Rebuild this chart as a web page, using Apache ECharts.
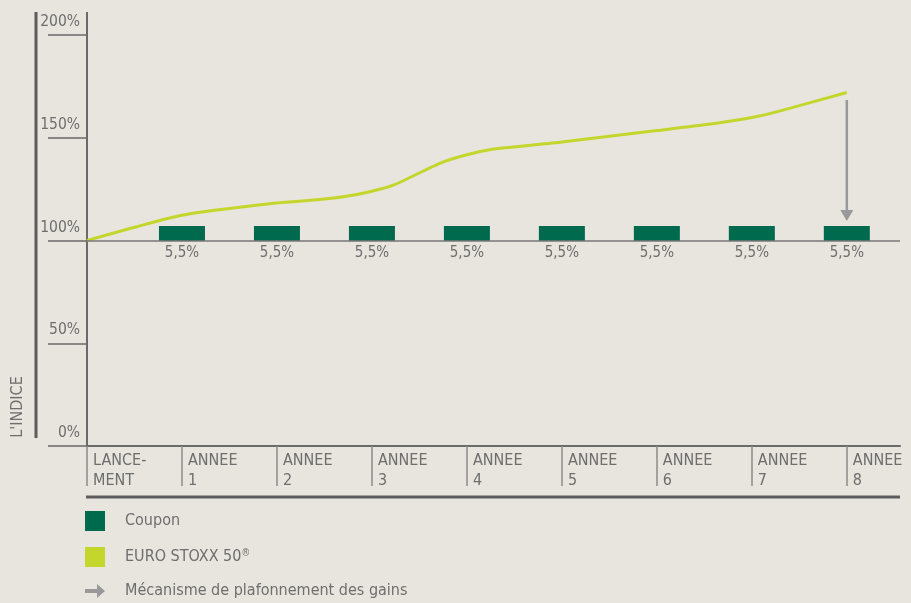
<!DOCTYPE html>
<html>
<head>
<meta charset="utf-8">
<script src="https://cdn.jsdelivr.net/npm/echarts@6/dist/echarts.min.js"></script>
<style>
  html, body { margin: 0; padding: 0; background: #e8e4de; }
  #box { width: 911px; height: 603px; }
</style>
</head>
<body>
<div id="box"></div>
<script>
var categories = ['LANCE-\nMENT', 'ANNEE\n1', 'ANNEE\n2', 'ANNEE\n3', 'ANNEE\n4', 'ANNEE\n5', 'ANNEE\n6', 'ANNEE\n7', 'ANNEE\n8'];
var couponYears = [1, 2, 3, 4, 5, 6, 7, 8];
var couponValues = [5.5, 5.5, 5.5, 5.5, 5.5, 5.5, 5.5, 5.5];
// index path: [year, level %]
var indexX = [0, 1, 2, 2.45, 2.73, 3, 3.24, 3.72, 4, 4.24, 5, 6, 6.5, 7, 7.3, 8];
var indexY = [100, 112.3, 118.3, 119.9, 121.5, 124.0, 127.2, 137.7, 141.7, 144.2, 147.9, 153.5, 156.3, 159.9, 163.1, 172.0];
var capArrow = [[8, 168.4], [8, 112.2]];

var font = '"Liberation Sans Narrow", "DejaVu Sans Condensed", sans-serif';
var grey = '#6e6e6e';
var axisGrey = '#6a6a6a';

var myChart = echarts.init(document.getElementById('box'));

var option = {
  backgroundColor: '#e8e4de',
  animation: false,
  textStyle: { fontFamily: font },
  grid: { left: 87, right: 11, top: 35, bottom: 157 },
  legend: {
    orient: 'vertical',
    left: 85,
    top: 511,
    padding: 0,
    itemWidth: 20,
    itemHeight: 20,
    itemGap: 16,
    selectedMode: false,
    formatter: function (name) { return name.replace('®', '{sup|®}'); },
    textStyle: {
      fontFamily: font, fontSize: 16, color: grey, padding: [0, 0, 0, 15],
      rich: { sup: { fontSize: 10, color: grey, fontFamily: font, padding: [0, 0, 8, 0] } }
    },
    data: [
      { name: 'Coupon', icon: 'rect' },
      { name: 'EURO STOXX 50®', icon: 'rect' },
      { name: 'Mécanisme de plafonnement des gains', icon: 'path://M0,5 L12,5 L12,0 L20,7 L12,14 L12,9 L0,9 Z' }
    ]
  },
  xAxis: {
    type: 'value',
    min: 0,
    max: 8.56,
    splitLine: { show: false },
    axisLine: { lineStyle: { color: axisGrey, width: 2 } },
    axisTick: {
      customValues: [0, 1, 2, 3, 4, 5, 6, 7, 8],
      length: 40,
      lineStyle: { color: '#8a8a8a', width: 1.5 }
    },
    axisLabel: {
      customValues: [0, 1, 2, 3, 4, 5, 6, 7, 8],
      formatter: function (v) { return categories[Math.round(v)]; },
      align: 'left',
      verticalAlign: 'top',
      padding: [0, 0, 0, 6],
      margin: 5,
      lineHeight: 20,
      fontSize: 16,
      color: grey,
      fontFamily: font
    }
  },
  yAxis: [
    {
      type: 'value',
      min: 0,
      max: 200,
      interval: 50,
      splitLine: { show: false },
      axisLine: { show: true, lineStyle: { color: axisGrey, width: 2 } },
      axisTick: { show: true, length: 39, lineStyle: { color: axisGrey, width: 1.5 } },
      axisLabel: {
        formatter: '{value}%',
        margin: 7,
        verticalAlign: 'bottom',
        padding: [0, 0, 5, 0],
        fontSize: 15.5,
        color: grey,
        fontFamily: font
      }
    },
    {
      type: 'value',
      show: false,
      min: -75.17,
      max: 75.53,
      splitLine: { show: false }
    }
  ],
  series: [
    {
      name: 'Coupon',
      type: 'bar',
      yAxisIndex: 1,
      barWidth: 46,
      itemStyle: { color: '#006a4f' },
      label: {
        show: true,
        position: 'bottom',
        distance: 5,
        fontSize: 15,
        color: grey,
        fontFamily: font,
        formatter: function (p) { return String(p.value[1]).replace('.', ',') + '%'; }
      },
      data: couponYears.map(function (x, i) { return [x, couponValues[i]]; })
    },
    {
      name: 'EURO STOXX 50®',
      type: 'line',
      smooth: 0.2,
      showSymbol: false,
      symbol: 'none',
      itemStyle: { color: '#c4d62c' },
      lineStyle: { color: '#c4d62c', width: 3 },
      markLine: {
        silent: true,
        symbol: 'none',
        label: { show: false },
        lineStyle: { color: '#777777', width: 1.5, type: 'solid' },
        data: [{ yAxis: 100 }]
      },
      data: indexX.map(function (x, i) { return [x, indexY[i]]; }),
      z: 3
    },
    {
      name: 'Mécanisme de plafonnement des gains',
      type: 'line',
      itemStyle: { color: '#999999' },
      lineStyle: { color: '#999999', width: 2.5 },
      symbolSize: 11,
      data: [
        { value: capArrow[0], symbol: 'none' },
        { value: capArrow[1], symbol: 'triangle', symbolRotate: 180, symbolSize: [13, 11] }
      ],
      z: 4
    }
  ],
  graphic: [
    { type: 'line', shape: { x1: 36, y1: 12, x2: 36, y2: 438 }, style: { stroke: '#5c5c5c', lineWidth: 3 } },
    { type: 'line', shape: { x1: 87, y1: 12, x2: 87, y2: 35 }, style: { stroke: axisGrey, lineWidth: 2 } },
    { type: 'line', shape: { x1: 86, y1: 497, x2: 900, y2: 497 }, style: { stroke: '#5c5c5c', lineWidth: 3 } },
    {
      type: 'text', x: 18, y: 407, rotation: Math.PI / 2,
      style: { text: "L'INDICE", fill: grey, font: '16px ' + font, align: 'center', verticalAlign: 'middle' }
    }
  ]
};
myChart.setOption(option);
</script>
</body>
</html>
